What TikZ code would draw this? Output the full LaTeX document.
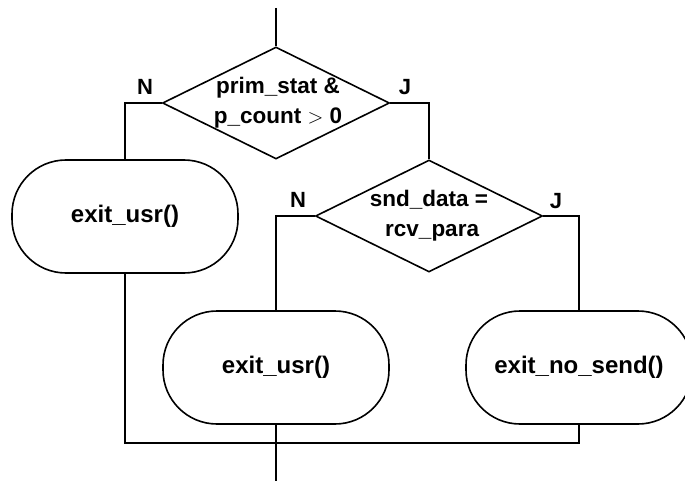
\documentclass[tikz,border=0pt]{standalone}
\usepackage{fontspec}
\setmainfont{Liberation Sans}
\usetikzlibrary{shapes.geometric}
\tikzset{
  condbox/.style={draw=black, diamond, line width=1.6pt, minimum width=227pt,
    minimum height=112pt, inner sep=0pt},
  condtext/.style={align=center, font=\fontsize{22.5}{30}\selectfont\bfseries},
  exitbox/.style={draw=black, rectangle, rounded corners=54pt, line width=1.6pt,
    minimum width=226pt, minimum height=113pt,
    font=\fontsize{24}{27}\selectfont\bfseries},
  branch/.style={font=\fontsize{22}{24}\selectfont\bfseries},
  flowline/.style={line width=2.9pt, draw=black}
}

\begin{document}
\begin{tikzpicture}[x=1pt,y=-1pt]
  \useasboundingbox (0,0) rectangle (685,481);
  \clip (0,0) rectangle (685,481);

  % decisions
  \node[condbox] (cond1) at (276,103) {};
  \node[condtext] (cond1text) at (278,103) {prim\_stat \&\\p\_count $>$ 0};
  \node[condbox] (cond2) at (429,216) {};
  \node[condtext] (cond2text) at (cond2) {snd\_data =\\\ rcv\_para};

  % exits
  \node[exitbox] (exit1) at (125,216.5) {exit\_usr()};
  \node[exitbox] (exit2) at (276,367.5) {exit\_usr()};
  \node[exitbox] (exit3) at (579,367.5) {exit\_no\_send()};

  % branch labels
  \node[branch] (no1) at (145,87) {N};
  \node[branch] (yes1) at (405,87) {J};
  \node[branch] (no2) at (298,200) {N};
  \node[branch] (yes2) at (556,201) {J};

  % connectors
  \coordinate (entry) at (276,8);
  \coordinate (merge) at (276,443);
  \coordinate (leave) at (276,481);
  \draw[flowline] (entry) -- (cond1.north);
  \draw[flowline] (cond1.west) -| (exit1.north);
  \draw[flowline] (cond1.east) -| (cond2.north);
  \draw[flowline] (cond2.west) -| (exit2.north);
  \draw[flowline] (cond2.east) -| (exit3.north);
  \draw[flowline] (exit1.south) |- (merge) -| (exit3.south);
  \draw[flowline] (exit2.south) -- (leave);
\end{tikzpicture}
\end{document}
